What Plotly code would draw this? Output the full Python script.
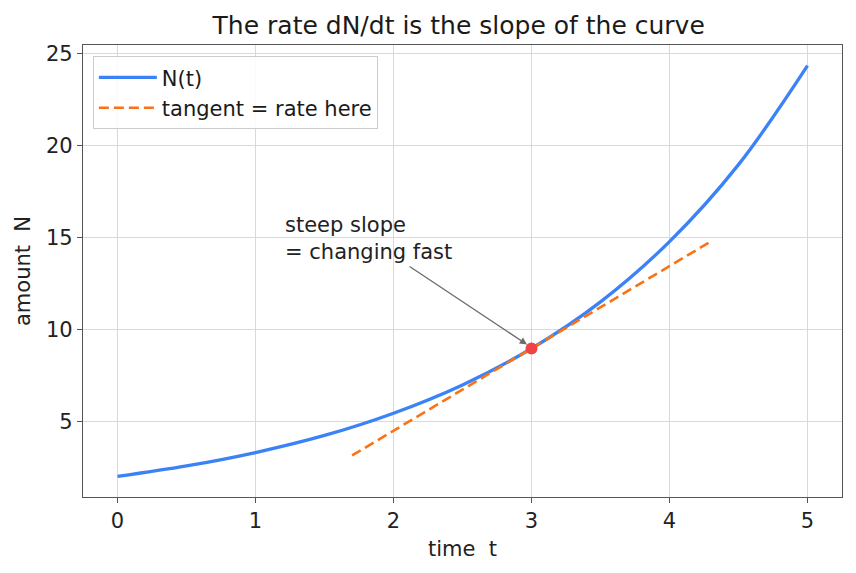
import plotly.graph_objects as go

# Data
t_vals = [0.0, 0.5, 1.0, 1.5, 2.0, 2.5, 3.0, 3.5, 4.0, 4.5, 5.0]
n_vals = [2.0, 2.57, 3.3, 4.23, 5.44, 6.98, 8.96, 11.5, 14.78, 18.97, 24.36]
tan_t = [1.7, 4.3]
tan_n = [3.14, 14.79]
pt_t = [3.0]
pt_n = [8.96]
x_ticks = [0, 1, 2, 3, 4, 5]
y_ticks = [5, 10, 15, 20, 25]

FONT = "DejaVu Sans"
TXT = "#222222"
FS = 21
fig = go.Figure()
fig.add_trace(go.Scatter(x=t_vals, y=n_vals, mode="lines", name="N(t)",
                         line=dict(color="#3b82f6", width=3.3, shape="spline")))
fig.add_trace(go.Scatter(x=tan_t, y=tan_n, mode="lines", name="tangent = rate here",
                         line=dict(color="#f97316", width=2.6, dash="10px,5px")))
fig.add_trace(go.Scatter(x=pt_t, y=pt_n, mode="markers", showlegend=False,
                         marker=dict(color="#ef4444", size=12)))

# arrow
fig.add_annotation(x=2.967, y=9.18, ax=2.106, ay=13.48, xref="x", yref="y",
                   axref="x", ayref="y", text="", showarrow=True,
                   arrowhead=2, arrowsize=1.1, arrowwidth=1.3, arrowcolor="#6b6b6b")
fig.add_annotation(x=1.2, y=14.95, xref="x", yref="y", text="steep slope<br>= changing fast",
                   showarrow=False, xanchor="left", yanchor="middle", align="left",
                   font=dict(family=FONT, size=FS, color=TXT))

axis_common = dict(showline=True, mirror=True, linecolor="#555555", linewidth=1.3,
                   ticks="outside", ticklen=5, tickwidth=1.3, tickcolor="#555555",
                   showgrid=True, gridcolor="#d9d9d9", gridwidth=1, zeroline=False,
                   tickfont=dict(family=FONT, size=FS, color=TXT))
fig.update_xaxes(range=[-0.25, 5.25], tickvals=x_ticks,
                 title=dict(text="time\u00a0 t", font=dict(family=FONT, size=FS, color=TXT), standoff=8),
                 **axis_common)
fig.update_yaxes(range=[0.88, 25.48], tickvals=y_ticks,
                 title=dict(text="amount\u00a0 N", font=dict(family=FONT, size=FS, color=TXT), standoff=9),
                 **axis_common)

fig.update_layout(
    width=856, height=573,
    margin=dict(l=83, r=14, t=45, b=76),
    paper_bgcolor="white", plot_bgcolor="white",
    title=dict(text="The rate dN/dt is the slope of the curve", x=0.495, xref="paper",
               xanchor="center", y=0.956, yanchor="middle",
               font=dict(family=FONT, size=25, color="#1a1a1a")),
    legend=dict(x=0.013, y=0.975, xanchor="left", yanchor="top",
                bgcolor="rgba(255,255,255,0.85)", bordercolor="#cccccc", borderwidth=1,
                font=dict(family=FONT, size=FS, color="#1a1a1a"), itemwidth=58,
                tracegroupgap=0),
    showlegend=True,
)
fig.write_html("out.html")
